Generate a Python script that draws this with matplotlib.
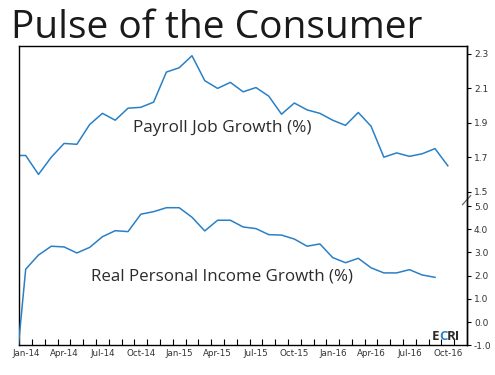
import matplotlib
matplotlib.use("Agg")
from matplotlib import pyplot as plt
import numpy as np

# monthly categories, Dec-13 (clipped at left edge) then Jan-14 .. Nov-16
months = ["Dec-13"] + [m + "-" + y for y in ["14", "15", "16"]
                       for m in ["Jan", "Feb", "Mar", "Apr", "May", "Jun",
                                 "Jul", "Aug", "Sep", "Oct", "Nov", "Dec"]][:35]

payroll = [1.71, 1.71, 1.60, 1.70, 1.78, 1.775, 1.89, 1.955, 1.915, 1.985, 1.99,
           2.02, 2.195, 2.22, 2.29, 2.145, 2.10, 2.135, 2.08, 2.105, 2.055, 1.95,
           2.015, 1.975, 1.955, 1.915, 1.885, 1.96, 1.88, 1.70, 1.725, 1.705,
           1.72, 1.75, 1.65]

income = [-3.5, 2.28, 2.89, 3.27, 3.24, 2.98, 3.22, 3.68, 3.94, 3.90, 4.65, 4.76,
          4.93, 4.93, 4.52, 3.93, 4.39, 4.39, 4.10, 4.03, 3.77, 3.75, 3.58, 3.27,
          3.37, 2.78, 2.56, 2.75, 2.34, 2.12, 2.12, 2.26, 2.03, 1.93]

payroll_ticks = [1.5, 1.7, 1.9, 2.1, 2.3]
income_ticks = [-1.0, 0.0, 1.0, 2.0, 3.0, 4.0, 5.0]

blue = "#2a80c6"
dark = "#2b2b2b"

fig = plt.figure(figsize=(4.95, 3.75), dpi=100)
rect = [19.3 / 495, 1 - 345.3 / 375, (467 - 19.3) / 495, (345.3 - 46) / 375]

ax = fig.add_axes(rect)
ax2 = fig.add_axes(rect, sharex=ax)
ax2.patch.set_visible(False)

x_pay = np.arange(len(payroll)) - 1
x_inc = np.arange(len(income)) - 1

ax.plot(x_pay, payroll, color=blue, lw=1.1)
ax2.plot(x_inc, income, color=blue, lw=1.1)

ax.set_xlim(-0.5, 34.5)
ax.set_ylim(0.6064, 2.3465)
ax2.set_ylim(-1.0, 11.90)

for a in (ax, ax2):
    for s in a.spines.values():
        s.set_linewidth(1.0)
        s.set_color("black")
    a.yaxis.tick_right()
    a.tick_params(axis="y", direction="out", length=3, width=0.8, pad=2,
                  labelsize=6.5, labelcolor="#333333", colors="black")

ax2.spines["left"].set_visible(False)
ax2.spines["top"].set_visible(False)
ax2.spines["bottom"].set_visible(False)

ax.set_yticks(payroll_ticks)
ax.set_yticklabels(["%.1f" % v for v in payroll_ticks], fontsize=6.5, color="#333333")
ax2.set_yticks(income_ticks)
ax2.set_yticklabels(["%.1f" % v for v in income_ticks], fontsize=6.5, color="#333333")

# x axis: labels at category centres, ticks at boundaries
label_pos = np.arange(0, 34, 3)
ax.set_xticks(label_pos)
ax.set_xticklabels([months[i + 1] for i in label_pos], fontsize=6.3, color="#333333")
ax.set_xticks(np.arange(0.5, 34.5, 1), minor=True)
ax.tick_params(axis="x", which="major", length=0, pad=3)
ax.tick_params(axis="x", which="minor", direction="in", length=4, width=0.8)
ax2.tick_params(axis="x", which="both", bottom=False, labelbottom=False)

# axis break marker on the right spine
ax.plot([0.99, 1.008], [0.47, 0.5], transform=ax.transAxes, color="#666666",
        lw=0.9, clip_on=False)

ax.text(0.453, 0.726, "Payroll Job Growth (%)", transform=ax.transAxes,
        ha="center", va="center", fontsize=12.4, color=dark, family="Open Sans")
ax.text(0.453, 0.229, "Real Personal Income Growth (%)", transform=ax.transAxes,
        ha="center", va="center", fontsize=12.2, color=dark, family="Open Sans")

# ECRI logo, letters set side by side
renderer = fig.canvas.get_renderer()
x0 = 432
for piece, col in [("E", dark), ("C", blue), ("RI", dark)]:
    t = fig.text(x0 / 495, 1 - 340 / 375, piece, fontsize=9.5, weight="bold",
                 color=col, family="Open Sans")
    x0 = t.get_window_extent(renderer).x1 - 0.5

fig.text(0.022, 0.9, "Pulse of the Consumer", fontsize=28, color="#1a1a1a",
         family="Open Sans")

fig.savefig("out.png", dpi=100)
